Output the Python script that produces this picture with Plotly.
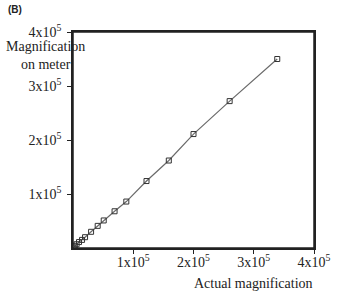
import plotly.graph_objects as go

actual = [0.01, 0.03, 0.06, 0.10, 0.15, 0.20, 0.30, 0.41, 0.51, 0.69, 0.885, 1.22, 1.59, 2.00, 2.60, 3.39]
meter = [0.01, 0.04, 0.07, 0.11, 0.15, 0.20, 0.30, 0.41, 0.51, 0.68, 0.86, 1.24, 1.62, 2.11, 2.72, 3.50]
scale = 1e5
actual_v = [a * scale for a in actual]
meter_v = [m * scale for m in meter]

tick_vals = [1e5, 2e5, 3e5, 4e5]
tick_text = ["1x10<sup>5</sup>", "2x10<sup>5</sup>", "3x10<sup>5</sup>", "4x10<sup>5</sup>"]

serif = "Liberation Serif, Times New Roman, serif"

fig = go.Figure(go.Scatter(
    x=actual_v, y=meter_v, mode="lines+markers",
    line=dict(color="#6a6a6a", width=1.2),
    marker=dict(symbol="square-open", size=5, color="#333333", line=dict(width=1)),
))

axis_common = dict(
    range=[0, 4e5], showgrid=False, zeroline=False,
    showline=True, linecolor="#222222", linewidth=1.5, mirror=True,
    ticks="outside", ticklen=4, tickwidth=1, tickcolor="#222222",
    tickvals=tick_vals, ticktext=tick_text,
    tickfont=dict(family=serif, size=14, color="#222222"),
)

pw = 343 - 73 - 17
ph = 294 - 32 - 46
def px(xp):
    return (xp - 73) / pw
def py(yp):
    return (294 - 46 - yp) / ph

fig.update_layout(
    width=343, height=294,
    margin=dict(l=73, r=17, t=32, b=46),
    paper_bgcolor="white", plot_bgcolor="white",
    showlegend=False,
    xaxis=dict(**axis_common, ticklabelstandoff=-4),
    yaxis=dict(**axis_common, ticklabelstandoff=3),
    shapes=[dict(type="rect", xref="paper", yref="paper", x0=0, y0=0, x1=1, y1=1,
                 line=dict(color="#222222", width=1.5), layer="above")],
    annotations=[
        dict(text="<b>(B)</b>", x=px(12), y=py(9), xref="paper", yref="paper", showarrow=False,
             xanchor="center", yanchor="middle",
             font=dict(family="Liberation Sans, Arial, sans-serif", size=10, color="#222222")),
        dict(text="Magnification<br>on meter", xref="paper", yref="paper", showarrow=False,
             x=px(44), y=py(55), xanchor="center", yanchor="middle", align="center",
             bgcolor="rgba(255,255,255,0)",
             font=dict(family=serif, size=14, color="#222222")),
        dict(text="Actual magnification", xref="paper", yref="paper", showarrow=False,
             x=px(262), y=py(283), xanchor="center", yanchor="middle",
             font=dict(family=serif, size=14, color="#222222")),
    ],
)

fig.write_html("out.html")
